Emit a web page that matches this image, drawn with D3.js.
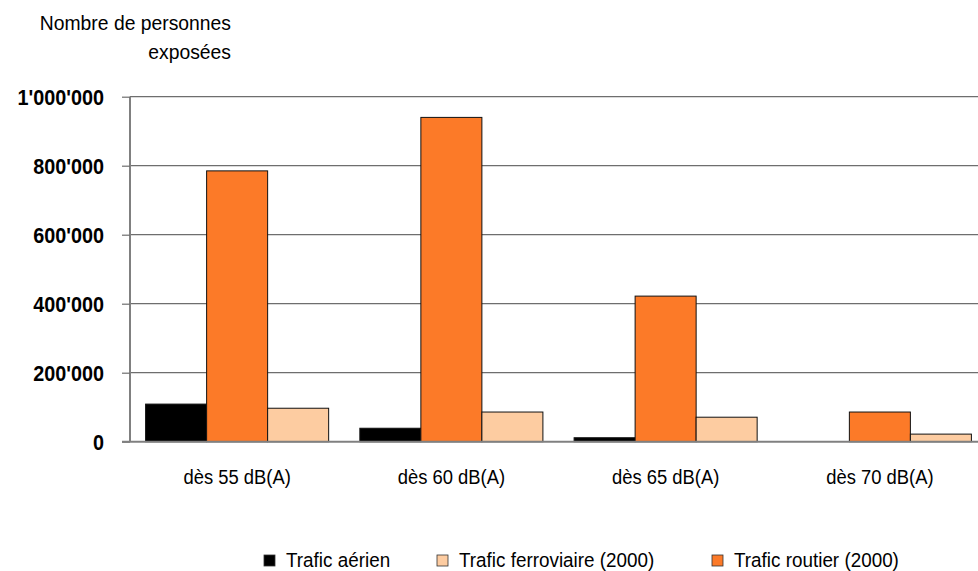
<!DOCTYPE html>
<html>
<head>
<meta charset="utf-8">
<script src="https://cdn.jsdelivr.net/npm/d3@7"></script>
<style>
  html, body { margin: 0; padding: 0; background: #fff; }
  svg { display: block; font-family: "Liberation Sans", Arial, sans-serif; }
</style>
</head>
<body>
<svg id="chart" width="978" height="571"></svg>
<script>
// ---- Data ----
const categories = ["dès 55 dB(A)", "dès 60 dB(A)", "dès 65 dB(A)", "dès 70 dB(A)"];
const aerien      = [109000, 39000, 11500, 0];
const routier     = [785000, 940000, 422000, 86000];
const ferroviaire = [97000, 86000, 71000, 22000];
const yTicks = [0, 200000, 400000, 600000, 800000, 1000000];
const yTickLabels = ["0", "200'000", "400'000", "600'000", "800'000", "1'000'000"];
const seriesNames = ["Trafic aérien", "Trafic routier (2000)", "Trafic ferroviaire (2000)"];
const legendOrder = ["Trafic aérien", "Trafic ferroviaire (2000)", "Trafic routier (2000)"];
const seriesColors = { "Trafic aérien": "#000000", "Trafic routier (2000)": "#FC7A28", "Trafic ferroviaire (2000)": "#FDCCA1" };
const seriesValues = { "Trafic aérien": aerien, "Trafic routier (2000)": routier, "Trafic ferroviaire (2000)": ferroviaire };

// ---- Layout ----
const svg = d3.select("#chart");
const plotLeft = 130, plotRight = 987, plotTop = 96.7, plotBottom = 441.7;
const squeeze = 0.92;

function condense(sel) {
  sel.each(function () {
    const w = this.getComputedTextLength();
    d3.select(this).attr("textLength", w * squeeze).attr("lengthAdjust", "spacingAndGlyphs");
  });
}

const x0 = d3.scaleBand().domain(categories).range([plotLeft, plotRight]).paddingInner(0).paddingOuter(0);
const x1 = d3.scaleBand().domain(seriesNames).range([15.6, x0.bandwidth() - 15.6]).padding(0);
const y = d3.scaleLinear().domain([0, 1000000]).range([plotBottom, plotTop]);

// gridlines
svg.append("g").selectAll("line").data(yTicks.filter(d => d > 0)).join("line")
  .attr("x1", plotLeft).attr("x2", 978)
  .attr("y1", d => y(d)).attr("y2", d => y(d))
  .attr("stroke", "#6e6e6e").attr("stroke-width", 1.2);

// y axis
const yAxis = d3.axisLeft(y).tickValues(yTicks).tickSize(8)
  .tickFormat((d, i) => yTickLabels[i]);
const gy = svg.append("g").attr("transform", `translate(${plotLeft},0)`).call(yAxis);
gy.select(".domain").attr("stroke", "#808080").attr("stroke-width", 2).attr("d", `M0,${plotBottom}V${plotTop}`);
gy.selectAll(".tick line").attr("stroke", "#6e6e6e").attr("stroke-width", 1.2);
gy.selectAll(".tick text")
  .attr("x", -26).attr("dy", "0.34em")
  .attr("font-family", "Liberation Sans, Arial, sans-serif")
  .attr("font-size", 21.5).attr("font-weight", "bold").attr("fill", "#000")
  .call(condense);

// bars
const groups = svg.append("g").selectAll("g").data(categories).join("g")
  .attr("transform", d => `translate(${x0(d)},0)`);
groups.selectAll("rect")
  .data((c, i) => seriesNames.map(s => ({ s, v: seriesValues[s][i] })).filter(d => d.v > 0))
  .join("rect")
  .attr("x", d => x1(d.s))
  .attr("width", x1.bandwidth())
  .attr("y", d => y(d.v))
  .attr("height", d => plotBottom - y(d.v))
  .attr("fill", d => seriesColors[d.s])
  .attr("stroke", "#111").attr("stroke-width", 1);

// x axis baseline
svg.append("line").attr("x1", 122).attr("x2", 978).attr("y1", plotBottom).attr("y2", plotBottom)
  .attr("stroke", "#808080").attr("stroke-width", 2);

// category labels
const xAxis = d3.axisBottom(x0).tickSize(0).tickPadding(0);
const gx = svg.append("g").attr("transform", `translate(0,${plotBottom})`).call(xAxis);
gx.select(".domain").remove();
gx.selectAll(".tick text").attr("y", 42).attr("dy", 0)
  .attr("font-family", "Liberation Sans, Arial, sans-serif")
  .attr("font-size", 20).attr("fill", "#000")
  .call(condense);

// title
svg.append("text").attr("x", 231).attr("y", 29.5).attr("text-anchor", "end")
  .attr("font-size", 21).text("Nombre de personnes").call(condense);
svg.append("text").attr("x", 231).attr("y", 59).attr("text-anchor", "end")
  .attr("font-size", 21).text("exposées").call(condense);

// legend
const legendX = [264, 437, 712];
const lg = svg.append("g").selectAll("g").data(legendOrder).join("g")
  .attr("transform", (d, i) => `translate(${legendX[i]},0)`);
lg.append("rect").attr("x", 0).attr("y", 555).attr("width", 11).attr("height", 11)
  .attr("fill", d => seriesColors[d]).attr("stroke", "#333").attr("stroke-width", 0.8);
lg.append("text").attr("x", 22).attr("y", 567).attr("font-size", 20.5).text(d => d).call(condense);
</script>
</body>
</html>
